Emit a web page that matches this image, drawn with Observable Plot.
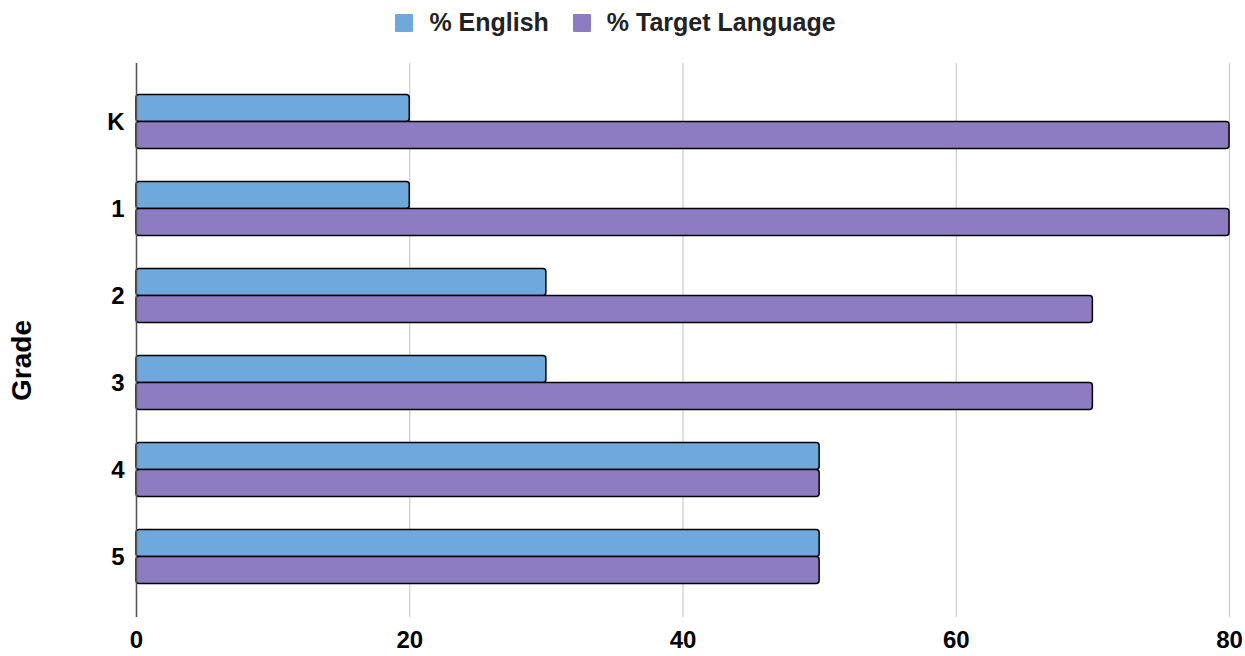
<!DOCTYPE html>
<html>
<head>
<meta charset="utf-8">
<script src="https://cdn.jsdelivr.net/npm/d3@7"></script>
<script src="https://cdn.jsdelivr.net/npm/@observablehq/plot@0.6"></script>
<style>
  html, body { margin: 0; padding: 0; background: #fff; }
  body { width: 1245px; height: 656px; overflow: hidden; font-family: "Liberation Sans", Arial, sans-serif; }
  #legend { height: 45px; display: flex; justify-content: center; align-items: center; font-weight: bold; font-size: 25px; color: #222; box-sizing: border-box; padding-top: 0; padding-right: 14px; }
  .item { display: flex; align-items: center; margin: 0 12px; }
  .sw { width: 18px; height: 18px; margin-right: 16px; border-radius: 1px; }
</style>
</head>
<body>
<div id="legend"></div>
<div id="chart"></div>
<script>
const grades = ["K", "1", "2", "3", "4", "5"];
const english = [20, 20, 30, 30, 50, 50];
const target = [80, 80, 70, 70, 50, 50];
const xTicks = [0, 20, 40, 60, 80];
const seriesNames = ["% English", "% Target Language"];
const seriesColors = ["#6fa8dc", "#8e7cc3"];
const axisTitle = "Grade";

const rows = grades.map((g, i) => ({grade: g, english: english[i], target: target[i]}));

const legend = document.getElementById("legend");
seriesNames.forEach((name, i) => {
  const item = document.createElement("div");
  item.className = "item";
  const sw = document.createElement("span");
  sw.className = "sw";
  sw.style.background = seriesColors[i];
  const t = document.createElement("span");
  t.textContent = name;
  item.appendChild(sw);
  item.appendChild(t);
  legend.appendChild(item);
});

const chart = Plot.plot({
  width: 1245,
  height: 611,
  marginLeft: 136,
  marginRight: 16,
  marginTop: 18,
  marginBottom: 39,
  x: {domain: [0, 80], ticks: xTicks},
  y: {domain: grades, range: [31.3, 555.7], paddingInner: 0.69, paddingOuter: 0.345},
  style: {fontFamily: "'Liberation Sans', Arial, sans-serif", fontSize: "24px", fontWeight: "bold", color: "#000", background: "#fff"},
  marks: [
    Plot.gridX(xTicks, {stroke: "#cccccc", strokeOpacity: 1, strokeWidth: 1.2}),
    Plot.axisX(xTicks, {tickSize: 0, tickPadding: 13, label: null, fontSize: 24, fontWeight: "bold"}),
    Plot.axisY({tickSize: 0, tickPadding: 12, label: null, fontSize: 24, fontWeight: "bold"}),
    Plot.barX(rows, {y: "grade", x: "english", fill: seriesColors[0], stroke: "#000", strokeWidth: 1.5, dy: -13.5, rx: 3}),
    Plot.barX(rows, {y: "grade", x: "target", fill: seriesColors[1], stroke: "#000", strokeWidth: 1.5, dy: 13.5, rx: 3}),
    Plot.ruleX([0], {stroke: "#555", strokeWidth: 1.5}),
    Plot.text([axisTitle], {text: d => d, frameAnchor: "left", textAnchor: "middle", rotate: -90, dx: -114, dy: 20, fontSize: 28, fontWeight: "bold", fill: "#000"})
  ]
});
document.getElementById("chart").appendChild(chart);
</script>
</body>
</html>
